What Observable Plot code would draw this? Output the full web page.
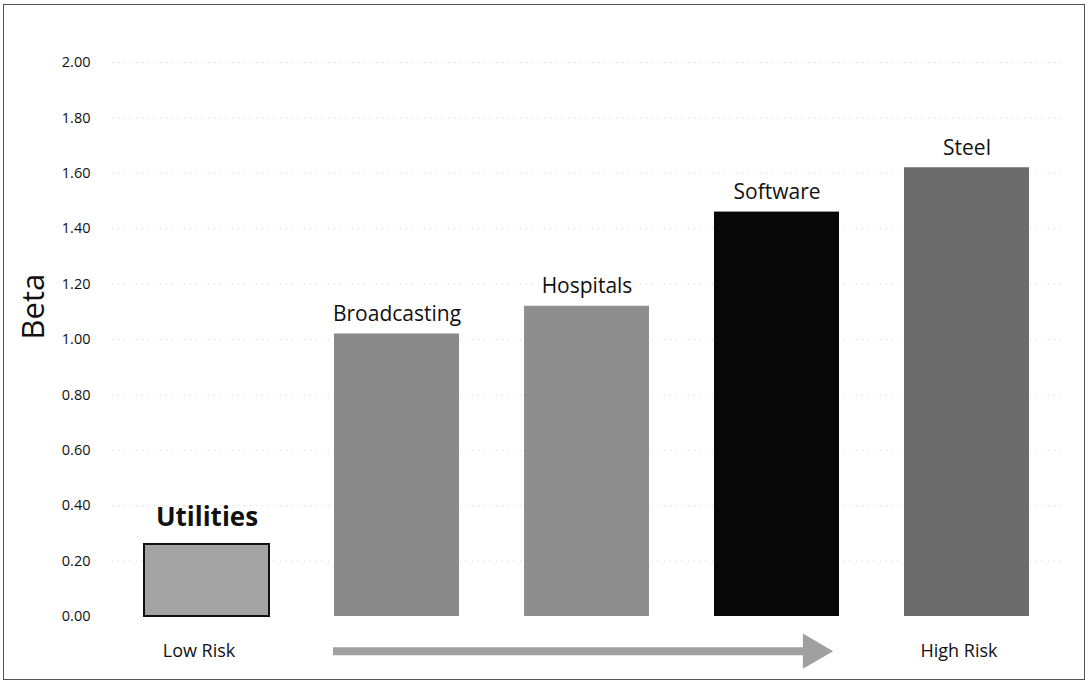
<!DOCTYPE html>
<html>
<head>
<meta charset="utf-8">
<script src="https://cdn.jsdelivr.net/npm/d3@7"></script>
<script src="https://cdn.jsdelivr.net/npm/@observablehq/plot@0.6"></script>
<style>
  html, body { margin: 0; padding: 0; background: #fff; }
  #wrap { position: relative; width: 1089px; height: 684px; overflow: hidden; }
  #wrap svg { position: absolute; left: 0; top: 0; }
  #border { position: absolute; left: 3px; top: 4px; width: 1082px; height: 676px;
            border: 1px solid #555; box-sizing: border-box; pointer-events: none; }
</style>
</head>
<body>
<div id="wrap"><div id="border"></div></div>
<script>
// Industry betas, ordered from low to high risk
const sectors = ["Utilities", "Broadcasting", "Hospitals", "Software", "Steel"];
const betas = [0.26, 1.02, 1.12, 1.46, 1.62];
const fills = ["#a3a3a3", "#8a8a8a", "#8e8e8e", "#080808", "#6c6c6c"];
const yTicks = [0, 0.2, 0.4, 0.6, 0.8, 1.0, 1.2, 1.4, 1.6, 1.8, 2.0];
const riskLabels = [
  {sector: "Utilities", text: "Low Risk"},
  {sector: "Steel", text: "High Risk"}
];
const riskArrow = [{from: "Broadcasting", to: "Software"}];
const arrowY = -0.125;
const arrowGray = "#a0a0a0";

const data = sectors.map((s, i) => ({sector: s, beta: betas[i], fill: fills[i]}));
const lowest = data.filter(d => d.sector === "Utilities");
const others = data.filter(d => d.sector !== "Utilities");
const font = "'Open Sans', Lato, sans-serif";

const chart = Plot.plot({
  width: 1089,
  height: 684,
  marginLeft: 112,
  marginRight: 27,
  marginTop: 62,
  marginBottom: 68,
  style: {fontFamily: font, background: "transparent", overflow: "visible"},
  x: {domain: sectors, paddingInner: 0.34, paddingOuter: 0.17, axis: null},
  y: {domain: [0, 2], axis: null},
  marks: [
    // faint dotted horizontal gridlines
    Plot.ruleY(yTicks.filter(d => d > 0), {
      stroke: "#d2d2d2", strokeWidth: 1, strokeDasharray: "1,5"
    }),
    Plot.axisY({
      ticks: yTicks, tickFormat: d3.format(".2f"), tickSize: 0, tickPadding: 22,
      fontSize: 14.5, label: null, fill: "#111"
    }),
    Plot.text(["Beta"], {
      text: d => d, frameAnchor: "left", rotate: -90, dx: -78,
      fontSize: 31, fill: "#111"
    }),
    Plot.barY(data, {
      x: "sector", y: "beta", fill: "fill",
      stroke: d => d.sector === "Utilities" ? "#111" : "none", strokeWidth: 2
    }),
    // sector names above the bars
    Plot.text(others, {
      x: "sector", y: "beta", text: "sector",
      lineAnchor: "bottom", dy: -13, fontSize: 21, fill: "#111"
    }),
    Plot.text(lowest, {
      x: "sector", y: "beta", text: "sector",
      lineAnchor: "bottom", dy: -18, fontSize: 26, fontWeight: "bold", fill: "#111"
    }),
    // risk scale beneath the bars
    Plot.text(riskLabels, {
      x: "sector", y: arrowY, text: "text", dx: -8, fontSize: 18, fill: "#111"
    }),
    Plot.arrow(riskArrow, {
      x1: "from", x2: "to", y1: arrowY, y2: arrowY,
      insetStart: -64, insetEnd: -28,
      stroke: arrowGray, strokeWidth: 8, headLength: 0, strokeLinecap: "butt"
    }),
    Plot.dot(riskArrow, {
      x: "to", y: arrowY, dx: 36, symbol: "triangle", rotate: 90, r: 13,
      fill: arrowGray, stroke: "none"
    })
  ]
});
document.getElementById("wrap").appendChild(chart);
</script>
</body>
</html>
